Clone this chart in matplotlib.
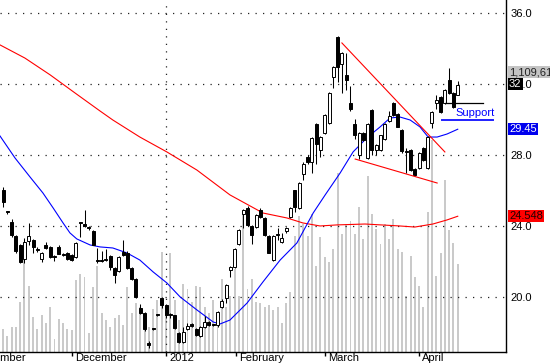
import matplotlib.pyplot as plt
import numpy as np
from matplotlib.transforms import offset_copy

plt.rcParams['font.family'] = ['Liberation Sans', 'DejaVu Sans']

# daily OHLC (Nov 2011 - Apr 2012)
opens = [26.03, 24.8, 24.23, 23.44, 22.93, 22.14, 23.15, 23.2, 22.66, 22.14, 22.93, 22.8, 22.26, 22.8, 22.37,
         22.48, 22.36, 22.25, 24.17, 24.1, 23.91, 23.7, 22.04, 22.04, 22.11, 22.3, 21.63, 21.46, 22.55, 22.48,
         21.63, 21.0, 19.38, 19.1, 17.4, 18.21, 19.01, 19.94, 19.55, 19.01, 18.99, 17.97, 17.46, 18.2, 18.5,
         18.2, 17.8, 18.3, 18.6, 18.46, 18.4, 19.45, 19.95, 21.5, 21.7, 23.0, 24.7, 25.0, 24.0, 23.95,
         24.9, 24.45, 23.44, 22.1, 23.51, 23.1, 23.7, 24.5, 26.0, 25.0, 26.95, 27.9, 27.6, 29.75, 28.3,
         29.25, 29.8, 32.4, 34.65, 33.1, 32.5, 30.9, 29.75, 28.0, 29.25, 27.85, 30.55, 28.3, 28.3, 28.9,
         29.9, 30.93, 30.3, 29.4, 28.21, 28.3, 27.2, 27.25, 28.4, 27.25, 29.8, 30.95, 31.25, 30.9, 32.2,
         31.5, 31.4]
highs = [26.2, 24.85, 24.4, 23.5, 23.0, 23.3, 24.17, 23.25, 22.8, 22.55, 23.1, 22.85, 22.35, 22.95, 22.45,
         22.55, 22.4, 23.1, 24.2, 24.9, 24.0, 23.8, 22.76, 22.6, 22.7, 22.35, 21.7, 22.3, 23.2, 22.6,
         21.7, 21.05, 19.6, 19.15, 17.5, 18.25, 19.05, 20.0, 19.6, 19.1, 19.0, 18.0, 18.3, 18.54, 18.55,
         18.25, 18.35, 18.95, 18.65, 18.5, 19.2, 19.9, 20.75, 21.75, 22.75, 23.85, 24.95, 25.1, 24.05, 24.65,
         25.0, 24.5, 23.5, 23.5, 23.9, 23.6, 23.95, 25.05, 26.05, 26.45, 27.6, 28.0, 29.0, 29.8, 29.05,
         30.3, 31.55, 33.0, 34.7, 33.8, 33.75, 31.9, 30.0, 29.3, 29.3, 29.8, 30.6, 28.6, 29.15, 29.8,
         30.5, 31.0, 30.35, 29.45, 28.4, 28.35, 27.25, 28.15, 28.45, 29.05, 30.45, 31.4, 31.3, 31.7, 32.9,
         31.55, 32.15]
lows = [25.07, 24.7, 23.4, 22.5, 21.9, 21.9, 22.93, 22.5, 22.55, 21.95, 22.7, 22.2, 22.0, 22.4, 22.3,
        22.1, 22.0, 22.2, 23.4, 23.95, 23.8, 22.9, 21.9, 21.95, 22.0, 21.5, 20.8, 21.4, 22.3, 21.6,
        20.95, 19.95, 19.05, 18.1, 17.15, 18.15, 18.95, 19.38, 18.8, 18.8, 18.2, 17.4, 17.4, 18.15, 18.3,
        17.8, 17.75, 18.25, 18.35, 18.35, 18.3, 19.4, 19.66, 21.1, 21.65, 22.95, 23.9, 24.0, 23.0, 23.9,
        24.45, 23.45, 22.45, 22.05, 23.2, 23.05, 23.6, 24.45, 24.8, 24.95, 26.6, 27.5, 27.0, 27.5, 27.9,
        29.2, 29.75, 31.8, 32.1, 31.5, 31.66, 30.5, 28.9, 27.8, 28.8, 27.75, 28.0, 28.0, 28.25, 28.85,
        29.85, 30.2, 29.55, 28.1, 27.0, 27.1, 26.8, 27.2, 27.65, 27.2, 29.5, 30.6, 30.35, 30.85, 31.45,
        30.65, 31.35]
closes = [25.35, 24.78, 23.49, 22.59, 21.97, 23.1, 23.44, 22.8, 22.64, 22.48, 22.76, 22.25, 22.24, 22.42, 22.35,
          22.14, 22.08, 23.04, 24.15, 24.0, 23.89, 22.95, 22.02, 22.02, 22.09, 21.7, 21.24, 22.25, 22.35, 21.63,
          21.0, 20.0, 19.1, 18.2, 17.3, 18.19, 18.99, 19.55, 18.99, 18.99, 18.25, 17.46, 18.03, 18.35, 18.35,
          17.85, 18.3, 18.6, 18.4, 18.44, 19.15, 19.8, 20.7, 21.7, 22.7, 23.8, 24.9, 24.05, 23.5, 24.6,
          24.5, 23.5, 22.48, 23.44, 23.49, 23.3, 23.9, 25.0, 25.05, 26.4, 27.5, 27.6, 28.95, 28.6, 29.0,
          30.25, 31.5, 32.95, 32.95, 33.75, 32.2, 30.6, 29.1, 29.25, 28.85, 29.75, 28.3, 28.55, 29.1, 29.75,
          30.2, 30.25, 29.6, 28.2, 28.19, 27.15, 26.85, 28.1, 27.7, 29.0, 30.4, 31.1, 30.4, 31.65, 31.5,
          30.7, 31.95]
volume_k = [92, 64, 100, 100, 200, 368, 260, 140, 92, 148, 116, 180, 52, 132, 116, 92, 88, 284, 308, 296,
            76, 256, 340, 156, 128, 100, 136, 148, 108, 256, 156, 196, 180, 128, 100, 172, 208, 396, 168, 392,
            208, 128, 268, 248, 200, 260, 256, 180, 156, 208, 140, 288, 180, 220, 328, 220, 556, 248, 288, 200,
            196, 180, 188, 168, 180, 116, 196, 236, 460, 540, 508, 460, 548, 340, 456, 376, 356, 408, 708, 468,
            508, 520, 468, 576, 448, 696, 548, 488, 428, 508, 448, 528, 408, 396, 220, 380, 296, 260, 180, 556,
            840, 300, 392, 680, 484, 432, 348]

# moving averages, read at points along each line
short_ma_x = [-0.7, 2.8, 6.3, 9.3, 11.7, 14.0, 15.6, 17.2, 20.3, 22.6, 25.6, 28.9, 31.9, 35.0, 38.2, 41.3,
              45.2, 49.0, 50.6, 52.9, 56.9, 60.6, 64.6, 68.5, 72.3, 75.1, 78.6, 81.6, 84.8, 87.9, 90.2, 92.5,
              94.9, 97.2, 99.1, 101.2, 103.5, 106.0]
short_ma = [29.07, 27.83, 26.76, 25.86, 25.01, 24.17, 23.61, 23.27, 22.93, 22.82, 22.76, 22.48, 22.08, 21.41,
            20.79, 20.0, 19.27, 18.59, 18.48, 18.70, 19.66, 20.85, 22.08, 23.04, 24.73, 25.75, 26.99, 28.17,
            28.96, 29.58, 30.08, 30.14, 29.97, 29.58, 29.01, 29.01, 29.18, 29.45]
long_ma_x = [-0.7, 5.1, 11.0, 16.8, 22.6, 25.6, 31.9, 38.2, 45.2, 52.9, 60.6, 66.2, 69.9, 73.9, 77.9, 84.4,
             92.5, 96.0, 100.2, 103.5, 106.0]
long_ma = [34.20, 33.46, 32.51, 31.49, 30.48, 29.97, 29.01, 28.17, 27.15, 25.75, 24.73, 24.45, 24.17, 24.0,
           24.06, 24.11, 24.0, 23.94, 24.11, 24.34, 24.548]

upper_trend_x, upper_trend = [79.0, 103.0], [34.31, 28.17]
lower_trend_x, lower_trend = [82.1, 101.2], [27.77, 26.42]
support_black_x, support_black = [103.0, 111.9], 30.93
support_blue_x, support_blue = [102.3, 114.2], 29.97

month_pos = [-7.5, 16.1, 38.0, 54.3, 75.1, 97.0]
month_labels = ['November', 'December', '2012', 'February', 'March', 'April']
price_ticks = [20, 24, 28, 32, 36]

x = np.arange(len(closes))
o = np.array(opens)
c = np.array(closes)
up = c >= o

fig = plt.figure(figsize=(5.5, 3.64), dpi=100)
rect = [0, 12 / 364, 506 / 550, 352 / 364]
ax_vol = fig.add_axes(rect)
ax = fig.add_axes(rect, facecolor='none')

xlim = (-0.7, 117.25)
ax_vol.set_xlim(xlim)
ax_vol.set_ylim(0, 1395)
ax_vol.axis('off')
ax_vol.bar(x, volume_k, width=0.45, color='#cacaca', linewidth=0)

ax.set_xlim(xlim)
ax.set_ylim(16.9, 36.73)

for p in price_ticks:
    ax.axhline(p, color='#222222', lw=0.9, ls=(0, (1, 5)), zorder=1)
ax.axvline(38.0, color='#222222', lw=0.9, ls=(0, (1, 5)), zorder=1)

ax.plot(long_ma_x, long_ma, color='#ff0000', lw=0.8, zorder=2)
ax.plot(short_ma_x, short_ma, color='#0000ff', lw=0.8, zorder=2)

ax.vlines(x, lows, highs, color='black', lw=0.75, zorder=3)
body = np.maximum(np.abs(c - o), 0.05)
ax.bar(x, body, bottom=np.minimum(o, c), width=0.7,
       color=np.where(up, 'white', 'black'), edgecolor='black', linewidth=0.7, zorder=4)

ax.plot(upper_trend_x, upper_trend, color='#ff0000', lw=0.8, zorder=5)
ax.plot(lower_trend_x, lower_trend, color='#ff0000', lw=0.8, zorder=5)
ax.plot(support_black_x, [support_black] * 2, color='black', lw=0.9, zorder=5)
ax.plot(support_blue_x, [support_blue] * 2, color='#2020ff', lw=1.4, zorder=5)
ax.text(105.4, 30.36, 'Support', color='#0000ff', fontsize=8, ha='left', va='center', zorder=6)

for s in ['left', 'top']:
    ax.spines[s].set_visible(False)
ax.spines['right'].set_linewidth(1)
ax.spines['bottom'].set_linewidth(1)

ax.yaxis.tick_right()
ax.set_yticks(price_ticks)
ax.set_yticklabels([f'{p:.1f}' for p in price_ticks], fontsize=8)
ax.tick_params(axis='y', length=0, pad=3)

ax.set_xticks(month_pos[1:])
ax.set_xticklabels([])
ax.tick_params(axis='x', length=3, width=1, direction='out')
lab_tr = offset_copy(ax.get_xaxis_transform(), fig=fig, x=3, y=-1, units='dots')
for pos, lab in zip(month_pos, month_labels):
    ax.text(pos, 0, lab, transform=lab_tr, fontsize=8, ha='left', va='top', clip_on=False)

# value boxes on the right edge
box_tr = offset_copy(ax.get_yaxis_transform(), fig=fig, x=3, y=0, units='dots')
vol_tr = offset_copy(ax_vol.get_yaxis_transform(), fig=fig, x=3, y=0, units='dots')
ax_vol.text(1.0, 1109.61, '1,109,610', transform=vol_tr, fontsize=8, color='#222222', ha='left', va='center',
            bbox=dict(boxstyle='square,pad=0.1', fc='#c4c4c4', ec='none'), clip_on=False)
ax.text(1.0, 32.0, '32', transform=box_tr, fontsize=8, color='white', ha='left', va='center',
        bbox=dict(boxstyle='square,pad=0.1', fc='black', ec='none'), clip_on=False, zorder=10)
ax.text(1.0, 29.46, '29.45', transform=box_tr, fontsize=8, color='white', ha='left', va='center',
        bbox=dict(boxstyle='square,pad=0.1', fc='#0000ee', ec='none'), clip_on=False, zorder=10)
ax.text(1.0, 24.56, '24.548', transform=box_tr, fontsize=8, color='#200000', ha='left', va='center',
        bbox=dict(boxstyle='square,pad=0.1', fc='#ff0000', ec='none'), clip_on=False, zorder=10)

fig.savefig('out.png', dpi=100)
